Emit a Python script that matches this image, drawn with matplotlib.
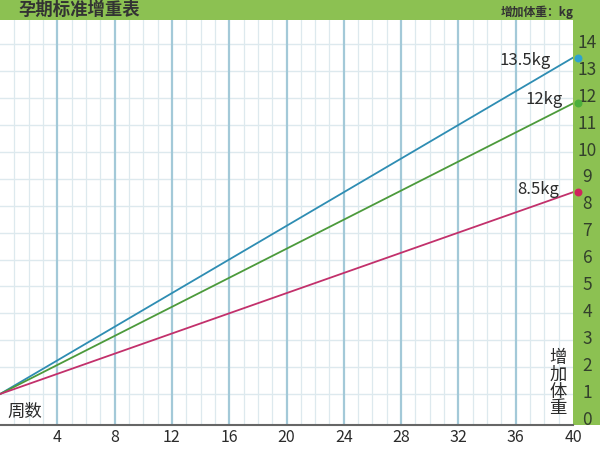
import matplotlib.pyplot as plt
import numpy as np
from matplotlib.patches import Rectangle

plt.rcParams['font.family'] = ['Noto Sans CJK SC', 'DejaVu Sans']

# data
weeks = [0, 40]
gain_high = [1, 13.5]
gain_mid = [1, 11.8]
gain_low = [1, 8.5]
line_names = ["13.5kg", "12kg", "8.5kg"]
x_ticks = [4, 8, 12, 16, 20, 24, 28, 32, 36, 40]
y_ticks = list(range(0, 15))

green = '#8cc152'
text_dark = '#2b2b2b'

fig = plt.figure(figsize=(6, 4.5), dpi=100)
fig.patch.set_facecolor('white')

# green header band and right band (behind the axes)
fig.patches.append(Rectangle((0, 430 / 450), 1, 20 / 450, transform=fig.transFigure,
                             facecolor=green, edgecolor='none', zorder=-5))
fig.patches.append(Rectangle((573 / 600, 25 / 450), 27 / 600, 405 / 450, transform=fig.transFigure,
                             facecolor=green, edgecolor='none', zorder=-5))

ax = fig.add_axes([0, 25 / 450, 573 / 600, 405 / 450])
ax.set_xlim(0, 40)
ax.set_ylim(-0.15, 14.9)

# grid
for w in range(1, 40):
    if w % 4 == 0:
        ax.axvline(w, color='#a3c9d8', lw=1.6, zorder=1)
    else:
        ax.axvline(w, color='#dde9ee', lw=0.9, zorder=0.5)
for k in y_ticks[1:]:
    ax.axhline(k, color='#dde9ee', lw=1.0, zorder=0.5)

ax.plot(weeks, gain_high, color='#2e8db3', lw=1.3, zorder=3)
ax.plot(weeks, gain_mid, color='#4c9a3b', lw=1.3, zorder=3)
ax.plot(weeks, gain_low, color='#c2306b', lw=1.3, zorder=3)
ax.scatter([weeks[-1] + 0.35], [gain_high[-1]], s=22, color='#2ea3d0', zorder=4, clip_on=False)
ax.scatter([weeks[-1] + 0.35], [gain_mid[-1]], s=22, color='#4caf3c', zorder=4, clip_on=False)
ax.scatter([weeks[-1] + 0.35], [gain_low[-1]], s=22, color='#d0245e', zorder=4, clip_on=False)

ax.text(38.45, 13.4, line_names[0], ha='right', va='center', fontsize=12, color=text_dark)
ax.text(39.3, 11.95, line_names[1], ha='right', va='center', fontsize=12, color=text_dark)
ax.text(39.0, 8.6, line_names[2], ha='right', va='center', fontsize=12, color=text_dark)

for s in ['top', 'right', 'left']:
    ax.spines[s].set_visible(False)
ax.spines['bottom'].set_color('#666666')
ax.spines['bottom'].set_linewidth(1.5)

ax.set_xticks(x_ticks)
ax.set_xticklabels([str(t) for t in x_ticks], fontsize=11.5, color=text_dark)
ax.tick_params(axis='x', length=0, pad=3)
ax.set_yticks([])

# y labels sit in the green band
for k in y_ticks:
    ax.text(41.0, k + 0.05, str(k), ha='center', va='center', fontsize=12.5, color='#33402c', clip_on=False)

ax.text(0.5, 0.35, "周数", ha='left', va='center', fontsize=12.5, color=text_dark)
ax.text(38.95, 1.4, "增\n加\n体\n重", ha='center', va='center', fontsize=12.5, color=text_dark,
        linespacing=0.9)

fig.text(18 / 600, 440 / 450, "孕期标准增重表", ha='left', va='center', fontsize=12.5,
         fontweight='bold', color='#333333')
fig.text(574 / 600, 438 / 450, "增加体重：kg", ha='right', va='center', fontsize=8.5,
         fontweight='bold', color='#333333')

fig.savefig("out.png", dpi=100)
